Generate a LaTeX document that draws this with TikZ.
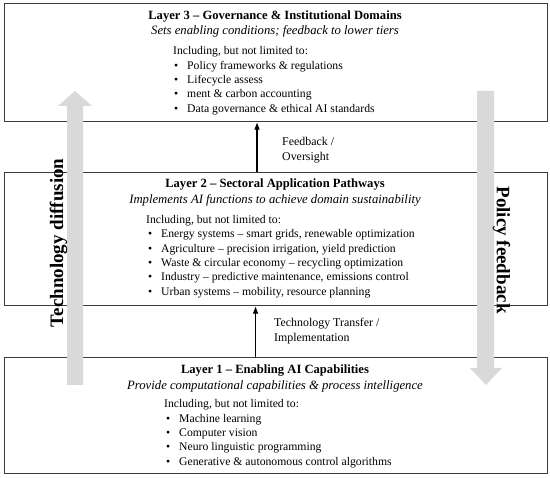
\documentclass[tikz,border=0pt]{standalone}
\usepackage{fontspec}
\setmainfont{Liberation Serif}
\usetikzlibrary{arrows.meta}
\definecolor{boxline}{RGB}{60,60,60}
\definecolor{arrowgray}{RGB}{217,217,217}
\begin{document}
\begin{tikzpicture}[x=1pt,y=-1pt,
  layerbox/.style={draw=boxline,line width=1.1pt,fill=white,inner sep=0pt,anchor=north west},
  ttl/.style={font=\fontsize{12.6}{14}\selectfont\bfseries,anchor=base,inner sep=0pt},
  sub/.style={font=\fontsize{12.7}{14}\selectfont\itshape,anchor=base,inner sep=0pt},
  itm/.style={font=\fontsize{11.7}{14}\selectfont,anchor=base west,inner sep=0pt},
  side/.style={font=\fontsize{19}{22}\selectfont\bfseries,inner sep=0pt},
  flow/.style={-{Triangle[length=7pt,width=5pt]},line width=1.2pt,black,shorten >=0.6pt},
  lbl/.style={font=\fontsize{11.9}{15}\selectfont,anchor=base west,inner sep=0pt},
  fat/.style={fill=arrowgray,draw=none}]
\newcommand{\bul}{\makebox[13pt][l]{\textbullet}}
\useasboundingbox (0,0) rectangle (550,478);
\fill[white] (0,0) rectangle (550,478);

% layer boxes
\node[layerbox,minimum width=543pt,minimum height=118pt] (L3) at (3.5,3) {};
\node[layerbox,minimum width=543pt,minimum height=133pt] (L2) at (3.5,172) {};
\node[layerbox,minimum width=543pt,minimum height=116pt] (L1) at (3.5,357) {};

% big side arrows
\path[fat] (67,385) -- (67,106) -- (58,106) -- (75,91) -- (92,106) -- (83,106) -- (83,385) -- cycle;
\path[fat] (477,91) -- (477,368) -- (470,368) -- (486,385) -- (502,368) -- (494,368) -- (494,91) -- cycle;
\node[side,rotate=90] (td) at (58.5,243) {Technology diffusion};
\node[side,rotate=-90] (pf) at (501.5,250) {Policy feedback};

% connectors
\draw[flow] ([xshift=-18.5pt]L2.north) -- ([xshift=-18.5pt]L3.south);
\draw[flow] ([xshift=-20pt]L1.north) -- ([xshift=-20pt]L2.south);
\node[lbl] (fb1) at (282,146) {Feedback /};
\node[lbl] (fb2) at (282,161) {Oversight};
\node[lbl] (tt1) at (274,327) {Technology Transfer /};
\node[lbl] (tt2) at (274,342) {Implementation};

% Layer 3
\node[ttl] (t3) at (275,19.5) {Layer 3 -- Governance \& Institutional Domains};
\node[sub] (s3) at (275,35) {Sets enabling conditions; feedback to lower tiers};
\node[itm] (c3) at (173,55) {Including, but not limited to:};
\node[itm] (a3) at (174,69.3) {\bul Policy frameworks \& regulations};
\node[itm] (b3) at (174,83.6) {\bul Lifecycle assess};
\node[itm] (d3) at (174,97.9) {\bul ment \& carbon accounting};
\node[itm] (e3) at (174,112.2) {\bul Data governance \& ethical AI standards};

% Layer 2
\node[ttl] (t2) at (275,188) {Layer 2 -- Sectoral Application Pathways};
\node[sub] (s2) at (275,204) {Implements AI functions to achieve domain sustainability};
\node[itm] (c2) at (146,224) {Including, but not limited to:};
\node[itm] (a2) at (148,238) {\bul Energy systems -- smart grids, renewable optimization};
\node[itm] (b2) at (148,252.3) {\bul Agriculture -- precision irrigation, yield prediction};
\node[itm] (d2) at (148,266.6) {\bul Waste \& circular economy -- recycling optimization};
\node[itm] (e2) at (148,280.9) {\bul Industry -- predictive maintenance, emissions control};
\node[itm] (f2) at (148,295.2) {\bul Urban systems -- mobility, resource planning};

% Layer 1
\node[ttl] (t1) at (275,374) {Layer 1 -- Enabling AI Capabilities};
\node[sub] (s1) at (275,389.5) {Provide computational capabilities \& process intelligence};
\node[itm] (c1) at (164,408) {Including, but not limited to:};
\node[itm] (a1) at (166,422.3) {\bul Machine learning};
\node[itm] (b1) at (166,436.6) {\bul Computer vision};
\node[itm] (d1) at (166,450.9) {\bul Neuro linguistic programming};
\node[itm] (e1) at (166,465.2) {\bul Generative \& autonomous control algorithms};
\end{tikzpicture}
\end{document}
